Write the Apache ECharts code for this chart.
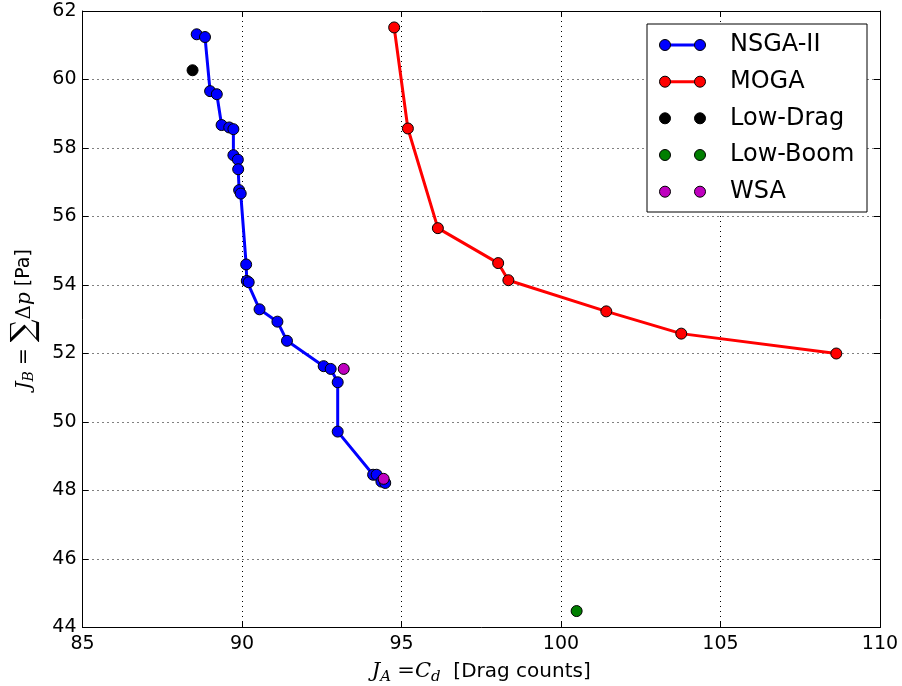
<!DOCTYPE html>
<html>
<head>
<meta charset="utf-8">
<script src="https://cdn.jsdelivr.net/npm/echarts@6/dist/echarts.min.js"></script>
<style>html,body{margin:0;padding:0;background:#fff;}#chart{width:902px;height:686px;}</style>
</head>
<body>
<div id="chart"></div>
<script>
// ---- data ----
const nsgaX = [88.58, 88.84, 89.00, 89.21, 89.36, 89.60, 89.73, 89.73, 89.87, 89.88, 89.91, 89.96, 90.13, 90.15, 90.21, 90.55, 91.11, 91.41, 92.56, 92.78, 93.00, 93.00, 94.11, 94.22, 94.37, 94.49];
const nsgaY = [61.32, 61.24, 59.66, 59.57, 58.67, 58.60, 58.55, 57.79, 57.66, 57.38, 56.77, 56.67, 54.60, 54.12, 54.08, 53.29, 52.93, 52.37, 51.63, 51.55, 51.16, 49.72, 48.46, 48.46, 48.26, 48.22];
const mogaX = [94.77, 95.20, 96.14, 98.03, 98.35, 101.42, 103.77, 108.63];
const mogaY = [61.52, 58.57, 55.66, 54.64, 54.14, 53.23, 52.58, 52.00];
const lowDragX = [88.45];
const lowDragY = [60.27];
const lowBoomX = [100.49];
const lowBoomY = [44.48];
const wsaX = [93.19, 94.44];
const wsaY = [51.55, 48.34];
const seriesNames = ['NSGA-II', 'MOGA', 'Low-Drag', 'Low-Boom', 'WSA'];
const seriesColors = ['#0000ff', '#ff0000', '#000000', '#007f00', '#bf00bf'];
const xTicks = {min: 85, max: 110, interval: 5};
const yTicks = {min: 44, max: 62, interval: 2};

function zip(xs, ys) { return xs.map((x, i) => [x, ys[i]]); }

const chart = echarts.init(document.getElementById('chart'), null, {renderer: 'canvas'});
const sans = 'DejaVu Sans';
const serif = 'DejaVu Serif';

const gridL = 82.5, gridR = 880, gridT = 11, gridB = 627.5;

const markerStyle = (c) => ({color: c, borderColor: '#000', borderWidth: 1, opacity: 1});

const legendRows = [45, 81.7, 118.3, 155, 191.7];
const legendGraphics = [{
  type: 'rect', z: 100,
  shape: {x: 647, y: 24, width: 220, height: 188},
  style: {fill: '#fff', stroke: '#000', lineWidth: 1}
}];
seriesNames.forEach((n, i) => {
  const y = legendRows[i];
  if (i < 2) {
    legendGraphics.push({type: 'line', z: 101, shape: {x1: 665, y1: y, x2: 700, y2: y}, style: {stroke: seriesColors[i], lineWidth: 3}});
  }
  [665, 700].forEach(cx => legendGraphics.push({type: 'circle', z: 102, shape: {cx: cx, cy: y, r: 5.5}, style: {fill: seriesColors[i], stroke: '#000', lineWidth: 1}}));
  legendGraphics.push({type: 'text', z: 102, x: 730, y: y, style: {text: n, font: '24px "DejaVu Sans"', fill: '#000', verticalAlign: 'middle', align: 'left'}});
});

const option = {
  animation: false,
  backgroundColor: '#fff',
  grid: {left: gridL, right: 902 - gridR, top: gridT, bottom: 686 - gridB, containLabel: false, outerBoundsMode: 'none'},
  xAxis: [{
    type: 'value', min: xTicks.min, max: xTicks.max, interval: xTicks.interval, position: 'bottom',
    axisLine: {show: true, onZero: false, lineStyle: {color: '#000', width: 1}},
    axisTick: {show: true, inside: true, length: 6, lineStyle: {color: '#000'}},
    axisLabel: {color: '#000', fontFamily: sans, fontSize: 19, margin: 7},
    splitLine: {show: true, lineStyle: {color: '#000', type: [1, 4], width: 1}},
    name: '{i|J}{sub|A} {eq|=}{i|C}{sub|d}  [Drag counts]',
    nameLocation: 'middle', nameGap: 32,
    nameTextStyle: {color: '#000', fontFamily: sans, fontSize: 20,
      rich: {
        i: {fontFamily: serif, fontStyle: 'italic', fontSize: 21, color: '#000'},
        sub: {fontFamily: serif, fontStyle: 'italic', fontSize: 15, color: '#000', padding: [10, 0, 0, 0]},
        eq: {fontFamily: serif, fontSize: 21, color: '#000'}
      }}
  }, {
    type: 'value', min: xTicks.min, max: xTicks.max, interval: xTicks.interval, position: 'top',
    axisLine: {show: true, onZero: false, lineStyle: {color: '#000', width: 1}},
    axisTick: {show: true, inside: true, length: 6, lineStyle: {color: '#000'}},
    axisLabel: {show: false}, splitLine: {show: false}
  }],
  yAxis: [{
    type: 'value', min: yTicks.min, max: yTicks.max, interval: yTicks.interval, position: 'left',
    axisLine: {show: true, onZero: false, lineStyle: {color: '#000', width: 1}},
    axisTick: {show: true, inside: true, length: 6, lineStyle: {color: '#000'}},
    axisLabel: {color: '#000', fontFamily: sans, fontSize: 19, margin: 6},
    splitLine: {show: true, lineStyle: {color: '#000', type: [1, 4], width: 1}},
    name: '{i|J}{sub|B} {eq|=} {sum|∑}{eq|Δ}{i|p} [Pa]',
    nameLocation: 'middle', nameGap: 42, nameRotate: 90,
    nameTextStyle: {color: '#000', fontFamily: sans, fontSize: 19,
      rich: {
        i: {fontFamily: serif, fontStyle: 'italic', fontSize: 20, color: '#000'},
        sub: {fontFamily: serif, fontStyle: 'italic', fontSize: 14, color: '#000', padding: [10, 0, 0, 0]},
        eq: {fontFamily: serif, fontSize: 20, color: '#000'},
        sum: {fontFamily: serif, fontSize: 32, color: '#000'}
      }}
  }, {
    type: 'value', min: yTicks.min, max: yTicks.max, interval: yTicks.interval, position: 'right',
    axisLine: {show: true, onZero: false, lineStyle: {color: '#000', width: 1}},
    axisTick: {show: true, inside: true, length: 6, lineStyle: {color: '#000'}},
    axisLabel: {show: false}, splitLine: {show: false}
  }],
  series: [
    {name: seriesNames[0], type: 'line', data: zip(nsgaX, nsgaY), symbol: 'circle', symbolSize: 11,
      lineStyle: {color: seriesColors[0], width: 3}, itemStyle: markerStyle(seriesColors[0]), z: 2},
    {name: seriesNames[1], type: 'line', data: zip(mogaX, mogaY), symbol: 'circle', symbolSize: 11,
      lineStyle: {color: seriesColors[1], width: 3}, itemStyle: markerStyle(seriesColors[1]), z: 3},
    {name: seriesNames[2], type: 'scatter', data: zip(lowDragX, lowDragY), symbol: 'circle', symbolSize: 11,
      itemStyle: markerStyle(seriesColors[2]), z: 4},
    {name: seriesNames[3], type: 'scatter', data: zip(lowBoomX, lowBoomY), symbol: 'circle', symbolSize: 11,
      itemStyle: markerStyle(seriesColors[3]), z: 5},
    {name: seriesNames[4], type: 'scatter', data: zip(wsaX, wsaY), symbol: 'circle', symbolSize: 11,
      itemStyle: markerStyle(seriesColors[4]), z: 6}
  ],
  graphic: legendGraphics
};
chart.setOption(option);
</script>
</body>
</html>
